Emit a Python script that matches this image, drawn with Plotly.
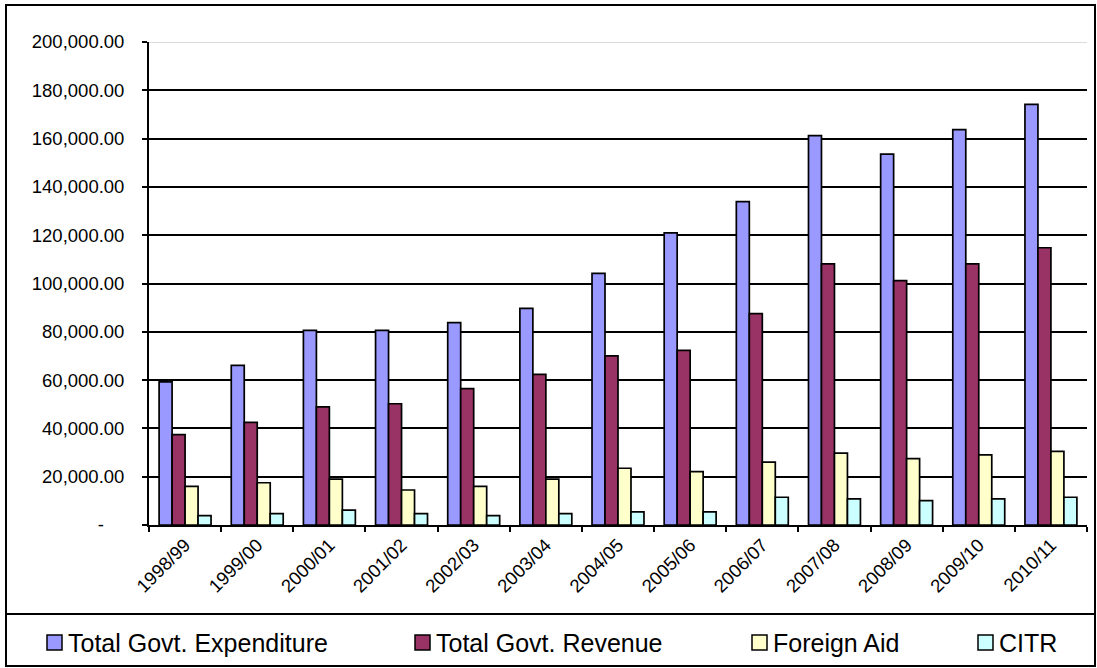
import plotly.graph_objects as go

# Fiscal years
years = ["1998/99", "1999/00", "2000/01", "2001/02", "2002/03", "2003/04", "2004/05",
         "2005/06", "2006/07", "2007/08", "2008/09", "2009/10", "2010/11"]

# Series values
expenditure = [59300, 66100, 80600, 80600, 83800, 89700, 104200,
               121000, 133900, 161200, 153600, 163700, 174200]
revenue = [37400, 42500, 48900, 50200, 56500, 62400, 70000,
           72300, 87500, 108100, 101200, 108100, 114800]
foreign_aid = [16000, 17500, 19000, 14500, 16000, 19000, 23500,
               22100, 26000, 29800, 27500, 29000, 30500]
citr = [3900, 4700, 6200, 4700, 3900, 4700, 5400,
        5400, 11500, 10800, 10100, 10800, 11500]

series_names = ["Total Govt. Expenditure", "Total Govt. Revenue", "Foreign Aid", "CITR"]
series_values = [expenditure, revenue, foreign_aid, citr]
series_colors = ["#9999FF", "#993366", "#FFFFCC", "#CCFFFF"]

# Y axis ticks
y_ticks = [0, 20000, 40000, 60000, 80000, 100000, 120000, 140000, 160000, 180000, 200000]
y_labels = ["-" + "\u00a0" * 4 if v == 0 else f"{v:,.2f}" for v in y_ticks]

FONT = "Arial, Liberation Sans, sans-serif"
W, H = 1097, 668
L, R, T, B = 149, 10, 42, 143
PW, PH = W - L - R, H - T - B


def px_x(x):
    return (x - L) / PW


def px_y(y):
    return (H - B - y) / PH


fig = go.Figure()
for name, vals, col in zip(series_names, series_values, series_colors):
    fig.add_trace(go.Bar(
        x=years, y=vals, name=name,
        marker=dict(color=col, line=dict(color="black", width=1.7)),
        showlegend=False,
    ))

shapes = []
annotations = []

# Light top line at the axis maximum
shapes.append(dict(type="line", xref="paper", yref="y", x0=0, x1=1,
                   y0=y_ticks[-1], y1=y_ticks[-1],
                   line=dict(color="#D0D0D0", width=1.6), layer="above"))

# Outer chart border and legend box
shapes.append(dict(type="rect", xref="paper", yref="paper",
                   x0=px_x(6), x1=px_x(1095), y0=px_y(666), y1=px_y(5),
                   line=dict(color="black", width=2), fillcolor="rgba(0,0,0,0)"))
shapes.append(dict(type="line", xref="paper", yref="paper",
                   x0=px_x(6), x1=px_x(1095), y0=px_y(614), y1=px_y(614),
                   line=dict(color="black", width=2)))

# Legend entries
legend_x = [47, 415, 752, 978]
for name, col, lx in zip(series_names, series_colors, legend_x):
    shapes.append(dict(type="rect", xref="paper", yref="paper",
                       x0=px_x(lx), x1=px_x(lx + 15), y0=px_y(650), y1=px_y(635),
                       fillcolor=col, line=dict(color="black", width=1.5)))
    annotations.append(dict(text=name, xref="paper", yref="paper",
                            x=px_x(lx + 19), y=px_y(642.5), xanchor="left", yanchor="middle",
                            showarrow=False, font=dict(family=FONT, size=25, color="black")))

fig.update_layout(
    width=W, height=H,
    margin=dict(l=L, r=R, t=T, b=B, autoexpand=False),
    paper_bgcolor="white", plot_bgcolor="white",
    barmode="group", bargap=0.28, bargroupgap=0,
    font=dict(family=FONT, color="black"),
    shapes=shapes, annotations=annotations,
    showlegend=False,
)
fig.update_xaxes(
    type="category", tickson="boundaries", ticks="outside", ticklen=5,
    tickcolor="black", tickwidth=1.6,
    showline=True, linecolor="black", linewidth=1.8,
    showgrid=False, tickangle=-45, tickfont=dict(family=FONT, size=18.5),
)
fig.update_yaxes(
    range=[0, 200000], tickvals=y_ticks, ticktext=y_labels,
    ticks="outside", ticklen=5, tickcolor="black", tickwidth=1.6,
    showline=True, linecolor="black", linewidth=1.8,
    showgrid=True, gridcolor="black", gridwidth=1.6, zeroline=False,
    tickfont=dict(family=FONT, size=18.5), ticklabelstandoff=14,
)

fig.write_html("out.html")
